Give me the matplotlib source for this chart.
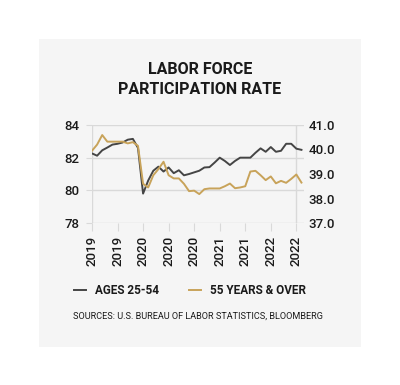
import matplotlib
matplotlib.use("Agg")
import matplotlib.pyplot as plt
from matplotlib.patches import Rectangle

plt.rcParams['font.family'] = ['Roboto', 'DejaVu Sans']

# monthly readings, left axis (ages 25-54) and right axis (55 years & over)
ages_25_54 = [82.26, 82.12, 82.45, 82.62, 82.80, 82.85, 82.93, 83.10, 83.15, 82.60,
              79.80, 80.60, 81.20, 81.45, 81.15, 81.40, 81.05, 81.23, 80.92, 81.00,
              81.10, 81.20, 81.40, 81.42, 81.70, 82.00, 81.80, 81.55, 81.80, 82.00,
              82.00, 82.00, 82.30, 82.57, 82.36, 82.65, 82.36, 82.42, 82.85, 82.85,
              82.55, 82.48]
over_55 = [39.95, 40.20, 40.59, 40.32, 40.32, 40.32, 40.32, 40.25, 40.30, 40.15,
           38.60, 38.45, 38.95, 39.20, 39.50, 38.95, 38.82, 38.82, 38.60, 38.30,
           38.32, 38.18, 38.38, 38.41, 38.41, 38.41, 38.50, 38.61, 38.42, 38.45,
           38.50, 39.10, 39.13, 38.95, 38.75, 38.90, 38.62, 38.72, 38.64, 38.80,
           38.98, 38.65]
months = list(range(len(ages_25_54)))
tick_pos = [0, 5, 10, 15, 20, 25, 30, 35, 40]
tick_labels = ['2019', '2019', '2020', '2020', '2020', '2021', '2021', '2022', '2022']
left_ticks = [78, 80, 82, 84]
right_ticks = [37.0, 38.0, 39.0, 40.0, 41.0]

GRAY = '#454545'
GOLD = '#c8a35a'
GRID = '#d9d9d9'
TXT = '#1a1a1a'

fig = plt.figure(figsize=(4, 3.85), dpi=100)
fig.patch.set_facecolor('white')
fig.patches.append(Rectangle((39 / 400, 1 - 347 / 385), 322 / 400, 308 / 385,
                             transform=fig.transFigure, facecolor='#f5f5f5',
                             edgecolor='none', zorder=-5))

ax = fig.add_axes([92 / 400, 1 - 223 / 385, 212 / 400, 98 / 385])
ax.set_facecolor('none')
ax2 = ax.twinx()

ax.set_xlim(0, 41.5)
ax.set_ylim(78, 84)
ax2.set_ylim(37, 41)

for s in ax.spines.values():
    s.set_visible(False)
for s in ax2.spines.values():
    s.set_visible(False)

for y in left_ticks:
    ax.axhline(y, color=GRID, lw=1, zorder=1)
ax.axvline(0, color=GRID, lw=1, zorder=1)
ax.axvline(40, color=GRID, lw=1, zorder=1)

ax.plot(months, ages_25_54, color=GRAY, lw=1.4, zorder=3)
ax2.plot(months, over_55, color=GOLD, lw=1.4, zorder=3)

ax.set_yticks(left_ticks)
ax.set_yticklabels([str(t) for t in left_ticks])
ax2.set_yticks(right_ticks)
ax2.set_yticklabels(['%.1f' % t for t in right_ticks])
ax.tick_params(axis='y', length=4, color=GRID, pad=5, labelsize=9.5, labelcolor=TXT)
ax2.tick_params(axis='y', length=0, pad=3, labelsize=9.5, labelcolor=TXT)

ax.set_xticks(tick_pos)
ax.set_xticklabels(tick_labels, rotation=90)
ax.tick_params(axis='x', length=6, color=GRID, pad=3, labelsize=9.5, labelcolor=TXT)
for lab in ax.get_yticklabels() + ax2.get_yticklabels() + ax.get_xticklabels():
    lab.set_fontweight('medium')

fig.text(0.5, 1 - 70 / 385, 'LABOR FORCE', ha='center', va='center',
         fontsize=11.5, fontweight='bold', color=TXT)
fig.text(0.5, 1 - 90 / 385, 'PARTICIPATION RATE', ha='center', va='center',
         fontsize=11.5, fontweight='bold', color=TXT)

h1, = ax.plot([], [], color=GRAY, lw=1.4)
h2, = ax.plot([], [], color=GOLD, lw=1.4)
leg = fig.legend([h1, h2], ['AGES 25-54', '55 YEARS & OVER'], loc='center',
                 bbox_to_anchor=(0.475, 1 - 291 / 385), ncol=2, frameon=False,
                 handlelength=1.0, handletextpad=0.75, columnspacing=2.6,
                 prop={'size': 8.5, 'weight': 'bold'})
for t in leg.get_texts():
    t.set_color(TXT)

fig.text(0.495, 1 - 316 / 385, 'SOURCES: U.S. BUREAU OF LABOR STATISTICS, BLOOMBERG',
         ha='center', va='center', fontsize=6.6, color=TXT)

fig.savefig('out.png', dpi=100, facecolor='white')
